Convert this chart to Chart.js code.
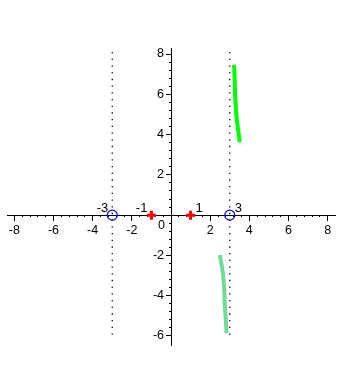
<!DOCTYPE html>
<html>
<head>
<meta charset="utf-8">
<script src="https://cdn.jsdelivr.net/npm/chart.js@4/dist/chart.umd.min.js"></script>
<style>
  html, body { margin: 0; padding: 0; background: #fff; }
  #wrap { width: 343px; height: 390px; }
</style>
</head>
<body>
<div id="wrap"><canvas id="plot"></canvas></div>
<script>
// axis ranges and ticks
const xRange = [-8.35, 8.4];
const yRange = [-6.45, 8.3];
const xMajor = [-8, -6, -4, -2, 0, 2, 4, 6, 8];
const yMajor = [-6, -4, -2, 0, 2, 4, 6, 8];
const minorPerMajor = 5;

// the two branches of the curve
const upperX = [3.22, 3.24, 3.27, 3.31, 3.36, 3.43, 3.51];
const upperY = [7.46, 7.05, 6.05, 5.39, 4.73, 4.23, 3.62];
const lowerX = [2.50, 2.60, 2.67, 2.72, 2.75, 2.80, 2.84];
const lowerY = [-1.99, -2.57, -3.07, -3.73, -4.56, -5.22, -5.86];

// marked points on the x axis
const circleX = [-3, 3];
const crossX = [-1, 1];

// dotted vertical lines
const dottedX = [-3, 3];
const dottedY = [8.1, -6.2];

const font = { family: "'Liberation Sans', Arial, sans-serif", size: 12.5 };

function minorOf(major) {
  let out = [];
  for (let i = 0; i < major.length - 1; i++) {
    let step = (major[i + 1] - major[i]) / minorPerMajor;
    for (let k = 0; k < minorPerMajor; k++) out.push(major[i] + k * step);
  }
  out.push(major[major.length - 1]);
  return out;
}

function pts(xs, ys) {
  return xs.map(function(x, i){ return { x: x, y: ys[i] }; });
}

const datasets = [
  {
    data: circleX.map(function(x){ return { x: x, y: 0 }; }),
    showLine: false, pointStyle: 'circle', pointRadius: 5,
    pointBorderColor: '#0000ff', pointBackgroundColor: 'rgba(0,0,0,0)', pointBorderWidth: 1.2
  },
  {
    data: crossX.map(function(x){ return { x: x, y: 0 }; }),
    showLine: false, pointStyle: 'cross', pointRadius: 4.5,
    pointBorderColor: '#ff0000', pointBorderWidth: 3
  },
  {
    data: pts(upperX, upperY),
    showLine: true, borderColor: '#00ff00', borderWidth: 4, pointRadius: 0, tension: 0.2
  },
  {
    data: pts(lowerX, lowerY),
    showLine: true, borderColor: '#6fdb97', borderWidth: 4, pointRadius: 0, tension: 0.2
  }
];
dottedX.forEach(function(x){
  datasets.push({
    data: dottedY.map(function(y){ return { x: x, y: y }; }),
    showLine: true, borderColor: '#000', borderWidth: 1.3, borderDash: [1.3, 5.4], pointRadius: 0
  });
});

const labelPlugin = {
  id: 'pointLabels',
  afterDatasetsDraw(chart) {
    const c = chart.ctx;
    c.save();
    c.font = '13px ' + font.family;
    c.fillStyle = '#000';
    c.textBaseline = 'alphabetic';
    [0, 1].forEach(function(di){
      const meta = chart.getDatasetMeta(di);
      meta.data.forEach(function(el, i){
        const v = chart.data.datasets[di].data[i].x;
        if (v < 0) { c.textAlign = 'right'; c.fillText(String(v), el.x - 4, el.y - 3); }
        else { c.textAlign = 'left'; c.fillText(String(v), el.x + 5, el.y - 3); }
      });
    });
    // origin label
    const ox = chart.scales.x.getPixelForValue(0);
    const oy = chart.scales.y.getPixelForValue(0);
    c.font = font.size + 'px ' + font.family;
    c.textAlign = 'right';
    c.textBaseline = 'top';
    c.fillText('0', ox - 6, oy + 4);
    c.restore();
  }
};

function majorAxis(axis, range, major) {
  return {
    type: 'linear', axis: axis, min: range[0], max: range[1],
    position: axis === 'x' ? { y: 0 } : { x: 0 },
    afterBuildTicks: function(s){ s.ticks = major.map(function(v){ return { value: v }; }); },
    afterFit: function(s){ if (axis === 'x') s.height = 0; else s.width = 0; },
    border: { display: true, color: '#000', width: 1 },
    grid: { drawOnChartArea: false, drawTicks: true, tickLength: 5, tickColor: '#000', tickWidth: 1 },
    ticks: {
      autoSkip: false, maxRotation: 0, color: '#000', font: font, padding: 3,
      // centred axes put y labels flush against the line, so pad them with spaces
      callback: function(v){ return v === 0 ? '' : (axis === 'y' ? String(v) + '  ' : String(v)); }
    }
  };
}

function minorAxis(axis, range, major) {
  const minor = minorOf(major);
  return {
    type: 'linear', axis: axis, min: range[0], max: range[1],
    position: axis === 'x' ? { y: 0 } : { x: 0 },
    afterBuildTicks: function(s){ s.ticks = minor.map(function(v){ return { value: v }; }); },
    afterFit: function(s){ if (axis === 'x') s.height = 0; else s.width = 0; },
    border: { display: false },
    grid: { drawOnChartArea: false, drawTicks: true, tickLength: 2, tickColor: '#000', tickWidth: 1 },
    ticks: { display: false }
  };
}

new Chart(document.getElementById('plot'), {
  type: 'scatter',
  data: { datasets: datasets },
  options: {
    responsive: true,
    maintainAspectRatio: false,
    animation: false,
    layout: { padding: { left: 3, right: 3, top: 48, bottom: 45 } },
    plugins: { legend: { display: false }, tooltip: { enabled: false } },
    scales: {
      x: majorAxis('x', xRange, xMajor),
      y: majorAxis('y', yRange, yMajor),
      xMinor: minorAxis('x', xRange, xMajor),
      yMinor: minorAxis('y', yRange, yMajor)
    }
  },
  plugins: [labelPlugin]
});
</script>
</body>
</html>
